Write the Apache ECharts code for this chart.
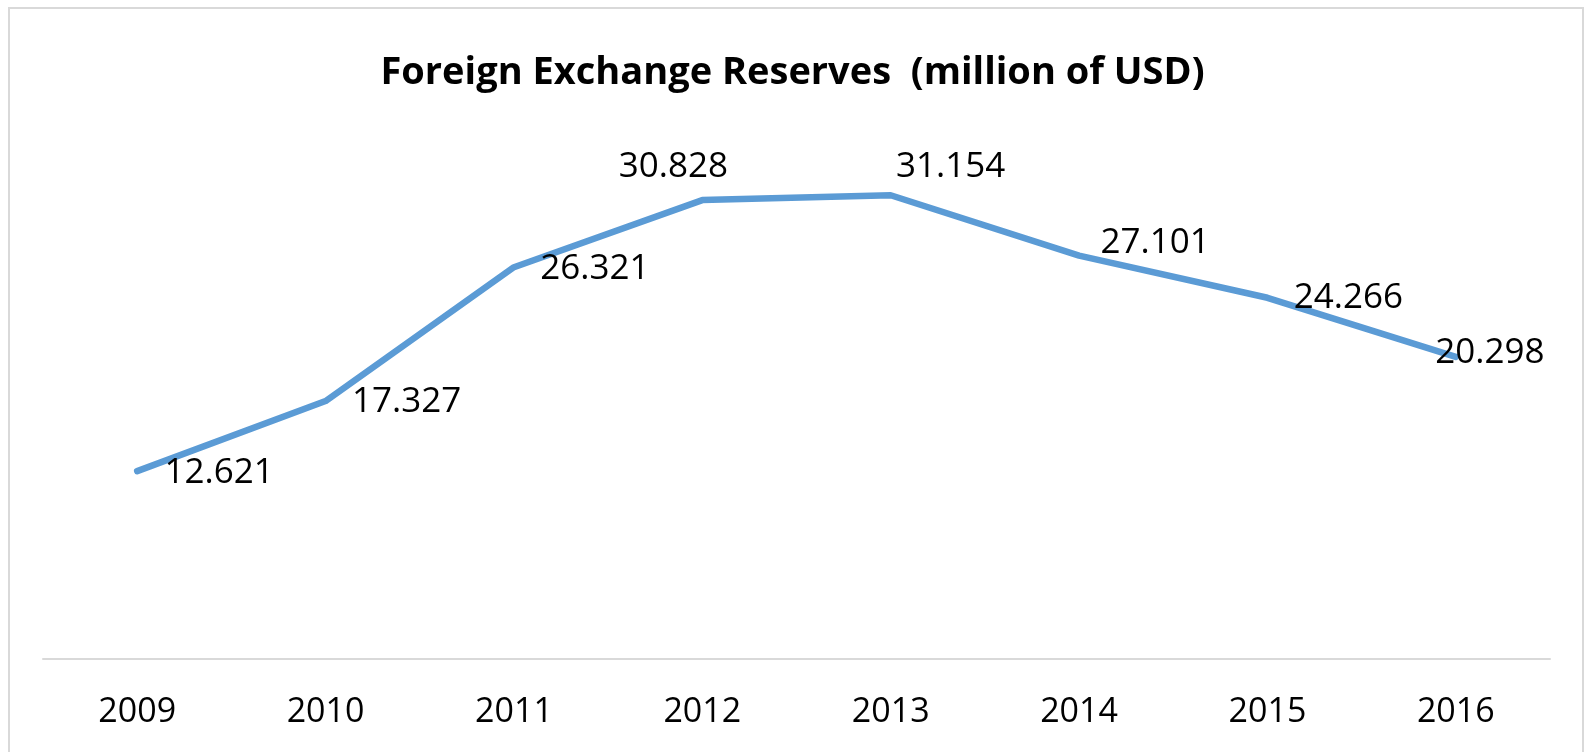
<!DOCTYPE html>
<html>
<head>
<meta charset="utf-8">
<script src="https://cdn.jsdelivr.net/npm/echarts@6/dist/echarts.min.js"></script>
<style>
  html, body { margin: 0; padding: 0; background: #ffffff; }
  #chart { width: 1585px; height: 752px; }
</style>
</head>
<body>
<div id="chart"></div>
<script>
const titleText = 'Foreign Exchange Reserves  (million of USD)';
const categories = ['2009', '2010', '2011', '2012', '2013', '2014', '2015', '2016'];
const reserves = [12.621, 17.327, 26.321, 30.828, 31.154, 27.101, 24.266, 20.298];
// label placement (pixel offsets from each point), layout only
const labelOffsets = [[82, 2], [81, 1], [81, 2], [-29, -33], [60, -28], [76, -13], [81, 0], [34, -4]];

const FONT = '"Open Sans", "Liberation Sans", sans-serif';

const chart = echarts.init(document.getElementById('chart'), null, { renderer: 'canvas' });

const seriesData = reserves.map((v, i) => ({
  value: v,
  label: { offset: labelOffsets[i] }
}));

chart.setOption({
  animation: false,
  backgroundColor: '#ffffff',
  title: {
    text: titleText,
    left: 'center',
    top: 47,
    textStyle: {
      fontFamily: FONT,
      fontWeight: 'bold',
      fontSize: 38,
      lineHeight: 42,
      color: '#000000'
    }
  },
  graphic: [{
    type: 'rect',
    shape: { x: 9, y: 8, width: 1574, height: 800 },
    style: { fill: 'none', stroke: '#D9D9D9', lineWidth: 2 },
    silent: true
  }],
  grid: { left: 43, right: 35, top: 138, bottom: 93 },
  xAxis: {
    type: 'category',
    data: categories,
    boundaryGap: true,
    axisLine: { show: true, lineStyle: { color: '#D9D9D9', width: 2 } },
    axisTick: { show: false },
    axisLabel: {
      margin: 36,
      fontFamily: FONT,
      fontSize: 34,
      lineHeight: 34,
      color: '#000000'
    },
    splitLine: { show: false }
  },
  yAxis: {
    type: 'value',
    min: 0,
    max: 35,
    interval: 5,
    show: false,
    splitLine: { show: false }
  },
  series: [{
    type: 'line',
    data: seriesData,
    symbol: 'circle',
    symbolSize: 1,
    showSymbol: true,
    itemStyle: { color: 'rgba(0,0,0,0)' },
    lineStyle: { color: '#5B9BD5', width: 6.5, cap: 'round', join: 'round' },
    label: {
      show: true,
      position: 'inside',
      align: 'center',
      verticalAlign: 'middle',
      fontFamily: FONT,
      fontSize: 35,
      color: '#000000',
      formatter: p => p.value.toFixed(3)
    },
    emphasis: { disabled: true },
    z: 2
  }]
});
</script>
</body>
</html>
